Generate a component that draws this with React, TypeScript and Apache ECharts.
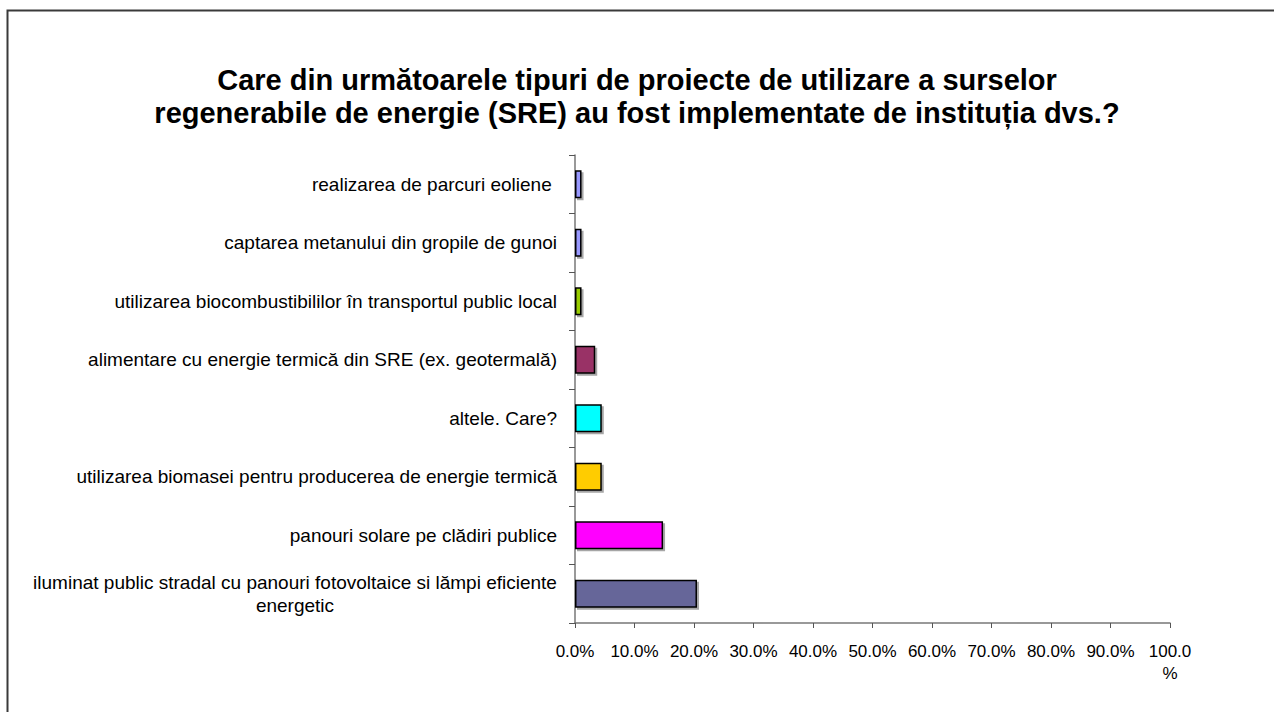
import React, { useEffect, useRef } from "react";
import * as echarts from "echarts";

const titleLines = [
  "Care din următoarele tipuri de proiecte de utilizare a surselor",
  "regenerabile de energie (SRE) au fost implementate de instituția dvs.?",
];

// bottom -> top
const categories = [
  "iluminat public stradal cu panouri fotovoltaice si lămpi eficiente\nenergetic",
  "panouri solare pe clădiri publice",
  "utilizarea biomasei pentru producerea de energie termică",
  "altele. Care?",
  "alimentare cu energie termică din SRE (ex. geotermală)",
  "utilizarea biocombustibililor în transportul public local",
  "captarea metanului din gropile de gunoi",
  "realizarea de parcuri eoliene ",
];

const values = [20.5, 14.8, 4.5, 4.5, 3.4, 1.1, 1.1, 1.1];

const barColors = [
  "#666699",
  "#FF00FF",
  "#FFCC00",
  "#00FFFF",
  "#993366",
  "#99CC00",
  "#9999FF",
  "#9999FF",
];

const FONT = "Liberation Sans, Arial, sans-serif";
const LABEL_SIZE = 19;

function measure(text: string, size: number): number {
  const c = document.createElement("canvas").getContext("2d");
  if (!c) return text.length * size * 0.45;
  c.font = size + "px 'Liberation Sans', Arial, sans-serif";
  return c.measureText(text).width;
}

export default function App() {
  const ref = useRef<HTMLDivElement>(null);

  useEffect(() => {
    if (!ref.current) return;
    const chart = echarts.init(ref.current, undefined, { renderer: "svg" });
    const longest = Math.max(
      ...categories
        .filter((c) => c.indexOf("\n") >= 0)
        .flatMap((c) => c.split("\n"))
        .map((s) => measure(s, LABEL_SIZE))
    );
    chart.setOption({
      animation: false,
      backgroundColor: "#ffffff",
      textStyle: { fontFamily: FONT },
      title: {
        text: titleLines.join("\n"),
        left: "center",
        top: 58,
        textStyle: {
          fontFamily: FONT,
          fontSize: 29,
          fontWeight: "bold",
          color: "#000000",
          lineHeight: 33,
        },
      },
      graphic: [
        {
          type: "rect",
          left: 5,
          top: 8,
          shape: { x: 0, y: 0, width: 1300, height: 800 },
          style: { fill: "none", stroke: "#3a3a3a", lineWidth: 2 },
          silent: true,
        },
      ],
      grid: {
        left: 575,
        right: 104,
        top: 155,
        bottom: 89,
        containLabel: false,
      },
      xAxis: {
        type: "value",
        min: 0,
        max: 100,
        interval: 10,
        splitLine: { show: false },
        axisLine: { show: true, lineStyle: { color: "#777777", width: 1.5 } },
        axisTick: { show: true, length: 5, lineStyle: { color: "#555555" } },
        axisLabel: {
          color: "#000000",
          fontSize: 17,
          fontFamily: FONT,
          margin: 17,
          lineHeight: 22,
          formatter: (v: number) =>
            v === 100 ? "100.0\n%" : v.toFixed(1) + "%",
        },
      },
      yAxis: {
        type: "category",
        data: categories,
        axisLine: { show: true, lineStyle: { color: "#777777", width: 1.5 } },
        axisTick: { show: true, length: 6, lineStyle: { color: "#555555" } },
        axisLabel: {
          color: "#000000",
          fontSize: LABEL_SIZE,
          fontFamily: FONT,
          margin: 18,
          lineHeight: 23,
          formatter: (v: string) => {
            if (v.indexOf("\n") >= 0) {
              return v
                .split("\n")
                .map((p) => "{c|" + p + "}")
                .join("\n");
            }
            return v;
          },
          rich: {
            c: {
              width: Math.ceil(longest),
              align: "center",
              fontSize: LABEL_SIZE,
              fontFamily: FONT,
              color: "#000000",
              lineHeight: 23,
            },
          },
        },
      },
      series: [
        {
          type: "bar",
          data: values.map((v, i) => ({
            value: v,
            itemStyle: { color: barColors[i] },
          })),
          barWidth: 28,
          itemStyle: {
            borderColor: "#000000",
            borderWidth: 1.5,
            shadowColor: "rgba(0,0,0,0.35)",
            shadowOffsetX: 2,
            shadowOffsetY: 2,
            shadowBlur: 0,
          },
        },
      ],
    });
    return () => chart.dispose();
  }, []);

  return (
    <div
      ref={ref}
      style={{
        position: "absolute",
        left: 0,
        top: 0,
        width: 1274,
        height: 712,
        background: "#fff",
      }}
    />
  );
}
